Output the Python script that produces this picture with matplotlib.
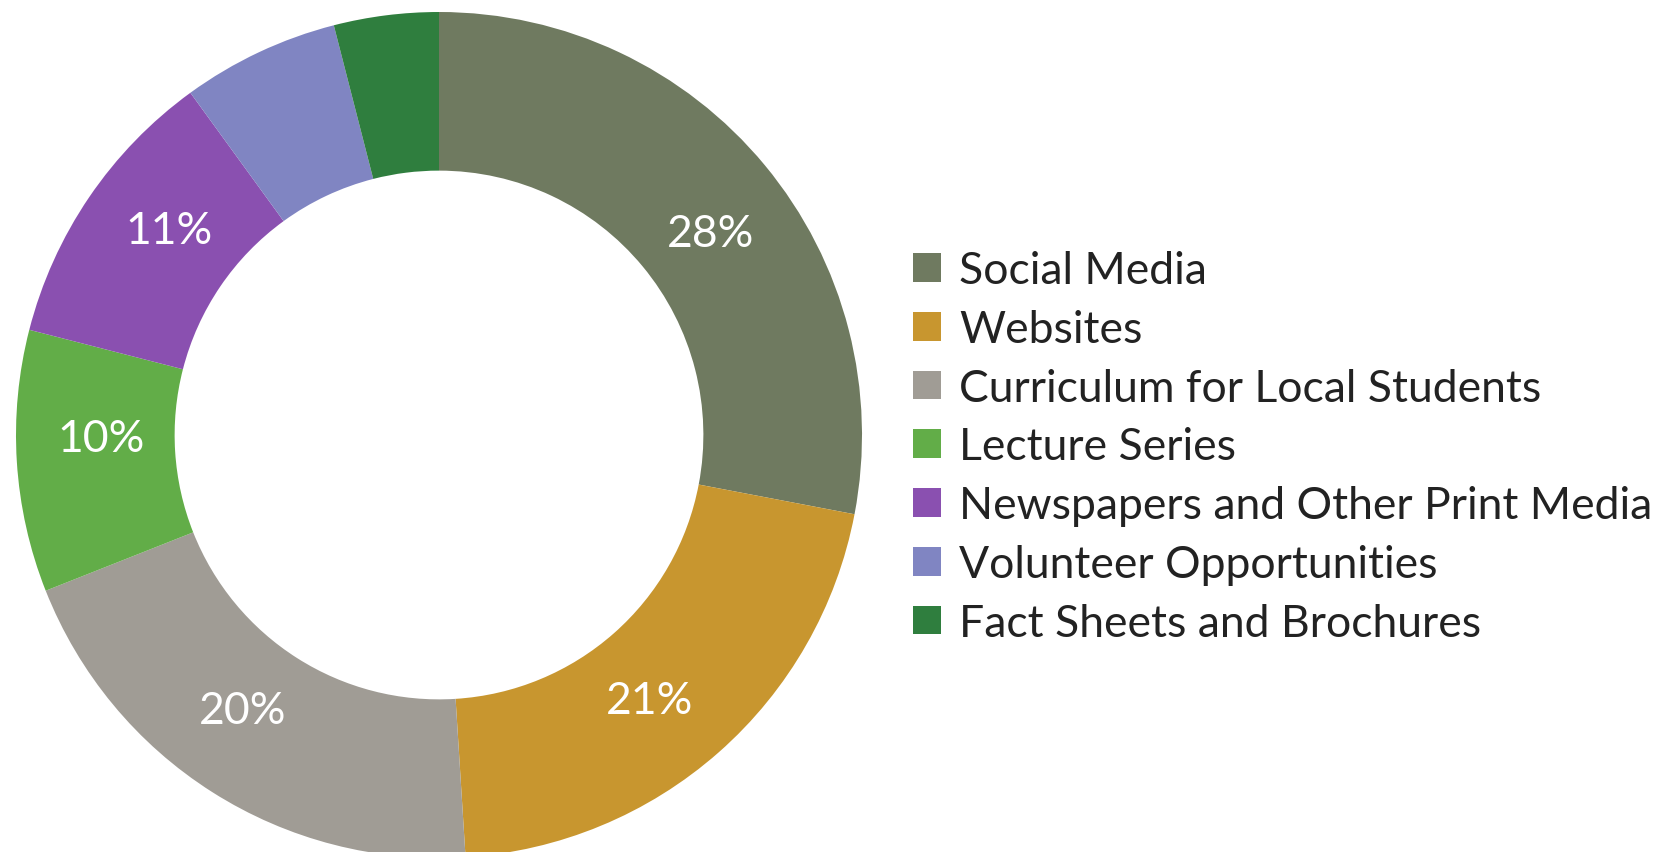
import matplotlib
matplotlib.use("Agg")
import matplotlib.pyplot as plt
import numpy as np

categories = ["Social Media", "Websites", "Curriculum for Local Students", "Lecture Series",
              "Newspapers and Other Print Media", "Volunteer Opportunities", "Fact Sheets and Brochures"]
values = [28, 21, 20, 10, 11, 6, 4]
shown_labels = ["28%", "21%", "20%", "10%", "11%", "", ""]
colors = ["#6f7a60", "#c8962f", "#a09c95", "#62ad48", "#8a50b0", "#8085c2", "#2f7e3e"]

plt.rcParams['font.family'] = ['Lato', 'DejaVu Sans']

W, H = 1665, 853
fig = plt.figure(figsize=(W / 100, H / 100), dpi=100)
fig.patch.set_facecolor("white")

cx, cy, R = 439, 436, 423
ax = fig.add_axes([(cx - R) / W, (H - cy - R) / H, 2 * R / W, 2 * R / H])

wedges, _ = ax.pie(values, colors=colors, startangle=90, counterclock=False, radius=1,
                   wedgeprops=dict(width=0.375, edgecolor="none"))
ax.set_xlim(-1, 1)
ax.set_ylim(-1, 1)
ax.set_aspect("equal")
ax.axis("off")

for w, lab in zip(wedges, shown_labels):
    if not lab:
        continue
    ang = np.deg2rad((w.theta1 + w.theta2) / 2 - 3.0)
    r = 0.80
    ax.text(r * np.cos(ang), r * np.sin(ang), lab, ha="center", va="center",
            color="white", fontsize=32)

leg = fig.legend(wedges, categories, loc="upper left", bbox_to_anchor=(913 / W, 1 - 251 / H),
                 frameon=False, fontsize=32, handlelength=0.62, handleheight=0.62,
                 handletextpad=0.42, labelspacing=0.40, borderaxespad=0, borderpad=0)
for t in leg.get_texts():
    t.set_color("#222222")

fig.savefig("out.png", dpi=100, facecolor="white")
